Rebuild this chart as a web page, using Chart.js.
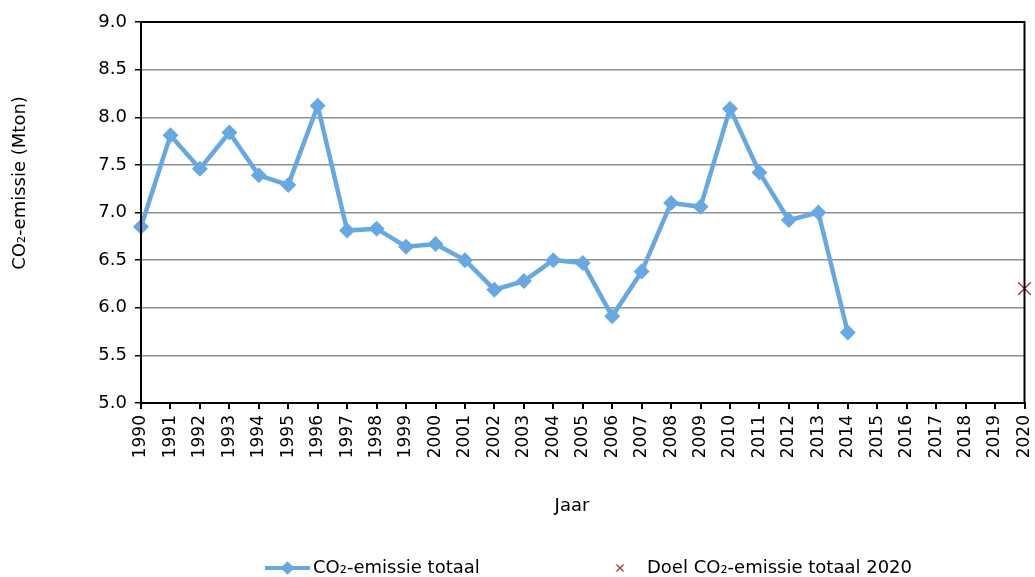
<!DOCTYPE html>
<html>
<head>
<meta charset="utf-8">
<script src="https://cdn.jsdelivr.net/npm/chart.js@4/dist/chart.umd.min.js"></script>
<style>
  html, body { margin: 0; padding: 0; background: #fff; }
  #wrap { width: 1035px; height: 577px; }
</style>
</head>
<body>
<div id="wrap"><canvas id="grafico" width="1035" height="577"></canvas></div>
<script>
// jaren op de x-as
var jaren = ['1990', '1991', '1992', '1993', '1994', '1995', '1996', '1997', '1998', '1999',
  '2000', '2001', '2002', '2003', '2004', '2005', '2006', '2007', '2008', '2009',
  '2010', '2011', '2012', '2013', '2014', '2015', '2016', '2017', '2018', '2019', '2020'];

// CO2-emissie totaal (Mton), 1990 t/m 2014
var emissie = [6.85, 7.81, 7.46, 7.84, 7.39, 7.29, 8.12, 6.81, 6.83, 6.64,
  6.67, 6.50, 6.19, 6.28, 6.50, 6.47, 5.91, 6.38, 7.10, 7.06,
  8.09, 7.42, 6.92, 7.00, 5.74];

// doel voor 2020
var doelJaar = '2020';
var doelWaarde = 6.2;

var blauw = '#66A9E2';
var rood = '#B5333B';
var font = 'DejaVu Sans';

// kader, astitels en legenda zelf tekenen
var extraTekst = {
  id: 'extraTekst',
  afterDraw: function(chart) {
    var ctx = chart.ctx;
    var area = chart.chartArea;
    ctx.save();

    // kader rond het plotgebied
    ctx.strokeStyle = '#000';
    ctx.lineWidth = 2;
    ctx.strokeRect(area.left, area.top, area.right - area.left, area.bottom - area.top);

    ctx.fillStyle = '#000';
    ctx.font = '18px "' + font + '"';
    ctx.textBaseline = 'middle';

    // titel y-as
    ctx.save();
    ctx.translate(20, 183);
    ctx.rotate(-Math.PI / 2);
    ctx.textAlign = 'center';
    ctx.fillText('CO\u2082-emissie (Mton)', 0, 0);
    ctx.restore();

    // titel x-as
    ctx.textAlign = 'center';
    ctx.fillText('Jaar', 572, 506);

    // legenda
    var ly = 568;
    ctx.strokeStyle = blauw;
    ctx.lineWidth = 4;
    ctx.beginPath();
    ctx.moveTo(265, ly);
    ctx.lineTo(310, ly);
    ctx.stroke();
    ctx.fillStyle = blauw;
    Chart.helpers.drawPoint(ctx, {pointStyle: 'rectRot', radius: 4, borderWidth: 1}, 287.5, ly);

    ctx.strokeStyle = rood;
    ctx.lineWidth = 1.3;
    Chart.helpers.drawPoint(ctx, {pointStyle: 'crossRot', radius: 5, borderWidth: 1.3}, 620, ly);

    ctx.fillStyle = '#000';
    ctx.textAlign = 'left';
    ctx.fillText('CO\u2082-emissie totaal', 313, ly);
    ctx.fillText('Doel CO\u2082-emissie totaal 2020', 647, ly);
    ctx.restore();
  }
};

var ctx = document.getElementById('grafico');
var chart = new Chart(ctx, {
  type: 'line',
  data: {
    labels: jaren,
    datasets: [{
      label: 'CO\u2082-emissie totaal',
      data: emissie,
      borderColor: blauw,
      backgroundColor: blauw,
      borderWidth: 4.5,
      pointStyle: 'rectRot',
      pointRadius: 8,
      pointBorderWidth: 0,
      tension: 0,
      clip: false
    }, {
      label: 'Doel CO\u2082-emissie totaal 2020',
      data: [{x: doelJaar, y: doelWaarde}],
      showLine: false,
      borderColor: rood,
      backgroundColor: rood,
      pointStyle: 'crossRot',
      pointRadius: 9,
      pointBorderWidth: 1.5,
      clip: false
    }]
  },
  options: {
    responsive: false,
    animation: false,
    layout: { padding: { left: 0, top: 22, right: 9, bottom: 0 } },
    plugins: {
      legend: { display: false },
      tooltip: { enabled: false }
    },
    scales: {
      x: {
        offset: false,
        afterFit: function(scale) {
          scale.height = 174;
          scale.paddingLeft = 0;
          scale.paddingRight = 0;
        },
        grid: { drawOnChartArea: false, tickLength: 6, tickColor: '#000', lineWidth: 2 },
        border: { color: '#000', width: 2 },
        ticks: {
          autoSkip: false, maxRotation: 90, minRotation: 90, padding: 6,
          color: '#000', font: { family: font, size: 17 }
        }
      },
      y: {
        min: 5, max: 9,
        afterFit: function(scale) { scale.width = 141; },
        grid: { color: '#8f8f8f', lineWidth: 1.5, tickLength: 6, tickColor: '#000' },
        border: { color: '#000', width: 2 },
        ticks: {
          stepSize: 0.5, padding: 8, color: '#000',
          font: { family: font, size: 18 },
          callback: function(v) { return v.toFixed(1); }
        }
      }
    }
  },
  plugins: [extraTekst]
});
</script>
</body>
</html>
